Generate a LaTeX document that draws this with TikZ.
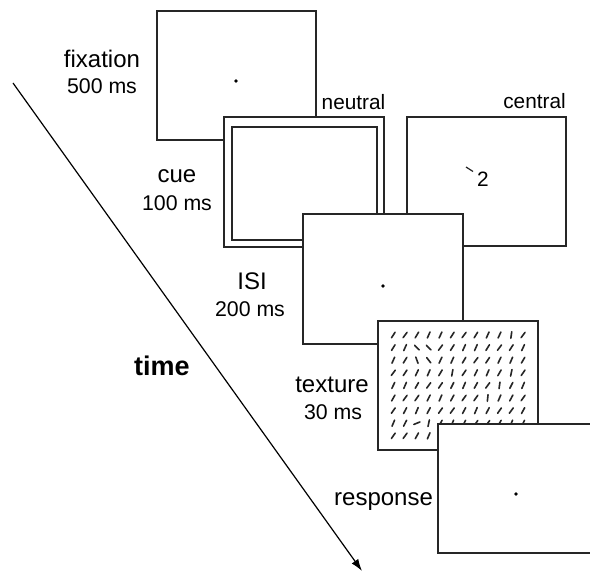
\documentclass[tikz,border=0pt]{standalone}
\usepackage{fontspec}
\setmainfont{Liberation Sans}
\usetikzlibrary{arrows.meta}
% texture element orientation overrides (row x col)
\expandafter\def\csname Tang1x11\endcsname{82}
\expandafter\def\csname Tang2x3\endcsname{135}
\expandafter\def\csname Tang2x4\endcsname{135}
\expandafter\def\csname Tang3x3\endcsname{110}
\expandafter\def\csname Tang3x4\endcsname{128}
\expandafter\def\csname Tang4x6\endcsname{80}
\expandafter\def\csname Tang4x11\endcsname{78}
\expandafter\def\csname Tang5x10\endcsname{82}
\expandafter\def\csname Tang6x9\endcsname{84}
\expandafter\def\csname Tang8x3\endcsname{22}
\expandafter\def\csname Tang8x4\endcsname{78}
\begin{document}
\begin{tikzpicture}[x=1pt,y=-1pt,
  screen/.style={draw=black!85,line width=1.4pt,fill=white},
  lbl/.style={anchor=base,inner sep=0pt,font=\fontsize{24}{28}\selectfont},
  dur/.style={anchor=base,inner sep=0pt,font=\fontsize{21.3}{25}\selectfont},
  cond/.style={anchor=base,inner sep=0pt,font=\fontsize{20.8}{24}\selectfont},
  fixdot/.style={fill=black,circle,inner sep=0pt,minimum size=3.8pt},
  elem/.style={line width=1.6pt,black!85,line cap=round}]
\useasboundingbox (0,0) rectangle (590,572);
\clip (0,0) rectangle (590,572);
% fixation
\draw[screen] (157,11) rectangle (316,140);
\node[fixdot] (fixdot) at (236,81) {};
% neutral cue
\draw[screen] (224,117) rectangle (384,247);
\draw[screen] (232,127) rectangle (377,240);
% central cue
\draw[screen] (407,117) rectangle (566,246);
\coordinate (cA) at (466,167);
\coordinate (cB) at (473,171.5);
\draw[line width=1.2pt,black!85] (cA) -- (cB);
\node[cond] (two) at (483,187) {2};
% ISI
\draw[screen] (303,214) rectangle (463,344);
\node[fixdot] (isidot) at (383,286) {};
% texture
\draw[screen] (378,321) rectangle (538,450);
\foreach \r in {1,...,9}{
  \foreach \c in {1,...,12}{
    \pgfmathsetmacro\ang{60+7*sin(137*\r+71*\c)}
    \ifcsname Tang\r x\c\endcsname \edef\ang{\csname Tang\r x\c\endcsname}\fi
    \pgfmathsetmacro\px{393.3+(\c-1)*11.8}
    \pgfmathsetmacro\py{335+(\r-1)*12.6}
    \draw[elem] (\px,\py) ++(180-\ang:3.3) -- ++(-\ang:6.6);
  }
}
% response
\draw[screen] (438,424) rectangle (610,553);
\node[fixdot] (respdot) at (516,494) {};
% labels
\node[lbl] (fixl) at (102,68) {fixation};
\node[dur] (fixt) at (102,94) {500 ms};
\node[lbl] (cuel) at (177,183) {cue};
\node[dur] (cuet) at (177,211) {100 ms};
\node[lbl] (isil) at (252,290) {ISI};
\node[dur] (isit) at (250,317) {200 ms};
\node[lbl,font=\fontsize{27}{31}\selectfont\bfseries] (timel) at (162,376) {time};
\node[lbl] (texl) at (332,393) {texture};
\node[dur] (text) at (333,420) {30 ms};
\node[lbl,anchor=base west] (respl) at (334,505) {response};
\node[cond] (neul) at (353.5,110) {neutral};
\node[cond] (cenl) at (534.5,109) {central};
% time arrow
\coordinate (tstart) at (13,83);
\coordinate (tend) at (362,571);
\draw[line width=1.2pt,-{Latex[length=12pt,width=8pt]}] (tstart) -- (tend);
\end{tikzpicture}
\end{document}
